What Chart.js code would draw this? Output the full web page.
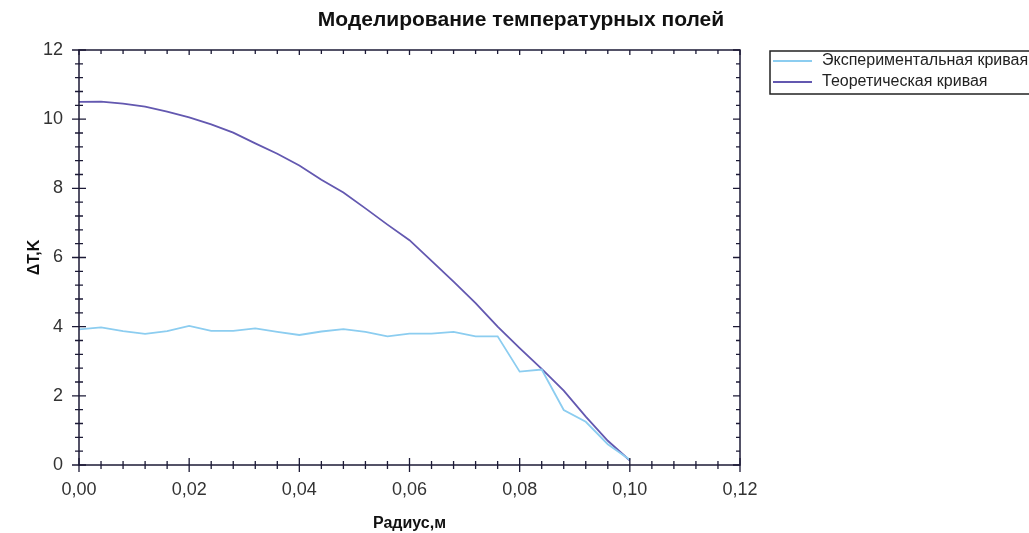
<!DOCTYPE html>
<html>
<head>
<meta charset="utf-8">
<script src="https://cdn.jsdelivr.net/npm/chart.js@4"></script>
<style>
  html, body { margin: 0; padding: 0; background: #fff; }
  #wrap { width: 1029px; height: 533px; }
</style>
</head>
<body>
<div id="wrap"><canvas id="tempChart" width="1029" height="533"></canvas></div>
<script>
// радиус, м
const radius = [0, 0.004, 0.008, 0.012, 0.016, 0.020, 0.024, 0.028, 0.032, 0.036, 0.040, 0.044, 0.048,
    0.052, 0.056, 0.060, 0.064, 0.068, 0.072, 0.076, 0.080, 0.084, 0.088, 0.092, 0.096, 0.100];

// экспериментальная кривая
const experimental = [3.92, 3.98, 3.87, 3.79, 3.87, 4.02, 3.88, 3.88, 3.95, 3.85, 3.76, 3.86, 3.93,
    3.85, 3.72, 3.8, 3.8, 3.85, 3.72, 3.72, 2.7, 2.76, 1.59, 1.25, 0.6, 0.15];

// теоретическая кривая
const theoretical = [10.5, 10.51, 10.45, 10.36, 10.22, 10.05, 9.85, 9.61, 9.3, 9.0, 8.66, 8.25, 7.88,
    7.42, 6.95, 6.5, 5.9, 5.3, 4.68, 4.0, 3.38, 2.78, 2.15, 1.4, 0.7, 0.13];

const seriesNames = ['Экспериментальная кривая', 'Теоретическая кривая'];
const seriesColors = ['#8ccdf0', '#6358b0'];

const xTicks = [0, 0.02, 0.04, 0.06, 0.08, 0.10, 0.12];
const yTicks = [0, 2, 4, 6, 8, 10, 12];

const chartTitle = 'Моделирование температурных полей';
const frameColor = '#1c1a36';
const fontFamily = '"Liberation Sans", Arial, sans-serif';

function toPoints(values) {
    return radius.map((r, i) => ({ x: r, y: values[i] }));
}

// frame, tick marks, title and legend box
const decorPlugin = {
    id: 'decor',
    afterDraw(chart) {
        const ctx = chart.ctx;
        const a = chart.chartArea;
        const xs = chart.scales.x;
        const ys = chart.scales.y;
        ctx.save();
        ctx.strokeStyle = frameColor;
        ctx.lineWidth = 1.5;
        ctx.strokeRect(a.left, a.top, a.right - a.left, a.bottom - a.top);

        ctx.lineWidth = 1.3;
        ctx.beginPath();
        // x ticks: minor every 0.004
        for (let i = 0; i <= 30; i++) {
            const px = xs.getPixelForValue(i * 0.004);
            const major = i % 5 === 0;
            const len = major ? 7 : 4;
            ctx.moveTo(px, a.bottom - len);
            ctx.lineTo(px, a.bottom + len);
            ctx.moveTo(px, a.top);
            ctx.lineTo(px, a.top + (major ? 5 : 4));
        }
        // y ticks: minor every 0.4
        for (let i = 0; i <= 30; i++) {
            const py = ys.getPixelForValue(i * 0.4);
            const major = i % 5 === 0;
            const len = major ? 7 : 4;
            ctx.moveTo(a.left - len, py);
            ctx.lineTo(a.left + len, py);
            ctx.moveTo(a.right, py);
            ctx.lineTo(a.right - len, py);
        }
        ctx.stroke();

        // title
        ctx.fillStyle = '#111';
        ctx.font = 'bold 21px ' + fontFamily;
        ctx.textAlign = 'center';
        ctx.textBaseline = 'middle';
        ctx.fillText(chartTitle, 521, 20);

        // legend
        ctx.strokeStyle = '#222';
        ctx.lineWidth = 1.5;
        ctx.strokeRect(770, 51, 270, 43);
        ctx.font = '16px ' + fontFamily;
        ctx.textAlign = 'left';
        const rows = [61, 82];
        chart.data.datasets.forEach((ds, i) => {
            ctx.strokeStyle = ds.borderColor;
            ctx.lineWidth = 1.8;
            ctx.beginPath();
            ctx.moveTo(773, rows[i]);
            ctx.lineTo(812, rows[i]);
            ctx.stroke();
            ctx.fillStyle = '#222';
            ctx.fillText(ds.label, 822, rows[i]);
        });
        ctx.restore();
    }
};

const ctx = document.getElementById('tempChart').getContext('2d');
new Chart(ctx, {
    type: 'line',
    data: {
        datasets: [
            {
                label: seriesNames[0],
                data: toPoints(experimental),
                borderColor: seriesColors[0],
                borderWidth: 1.8,
                pointRadius: 0,
                tension: 0
            },
            {
                label: seriesNames[1],
                data: toPoints(theoretical),
                borderColor: seriesColors[1],
                borderWidth: 1.8,
                pointRadius: 0,
                tension: 0
            }
        ]
    },
    options: {
        responsive: false,
        animation: false,
        events: [],
        layout: { padding: { top: 50, right: 289, left: 0, bottom: 0 } },
        plugins: {
            legend: { display: false },
            title: { display: false },
            tooltip: { enabled: false }
        },
        scales: {
            x: {
                type: 'linear',
                min: 0,
                max: 0.12,
                afterBuildTicks(scale) {
                    scale.ticks = xTicks.map(v => ({ value: v }));
                },
                afterFit(scale) {
                    scale.height = 68;
                },
                grid: { display: false, drawTicks: false },
                border: { display: false },
                ticks: {
                    padding: 14,
                    color: '#333',
                    font: { family: fontFamily, size: 18 },
                    callback: v => v.toFixed(2).replace('.', ',')
                },
                title: {
                    display: true,
                    text: 'Радиус,м',
                    color: '#111',
                    font: { family: fontFamily, size: 16, weight: 'bold' },
                    padding: { top: 0, bottom: 0 }
                }
            },
            y: {
                type: 'linear',
                min: 0,
                max: 12,
                afterBuildTicks(scale) {
                    scale.ticks = yTicks.map(v => ({ value: v }));
                },
                afterFit(scale) {
                    scale.width = 79;
                },
                grid: { display: false, drawTicks: false },
                border: { display: false },
                ticks: {
                    padding: 16,
                    color: '#333',
                    font: { family: fontFamily, size: 18 }
                },
                title: {
                    display: true,
                    text: 'ΔT,K',
                    color: '#111',
                    font: { family: fontFamily, size: 16, weight: 'bold' },
                    padding: { top: 25, bottom: 0 }
                }
            }
        }
    },
    plugins: [decorPlugin]
});
</script>
</body>
</html>
